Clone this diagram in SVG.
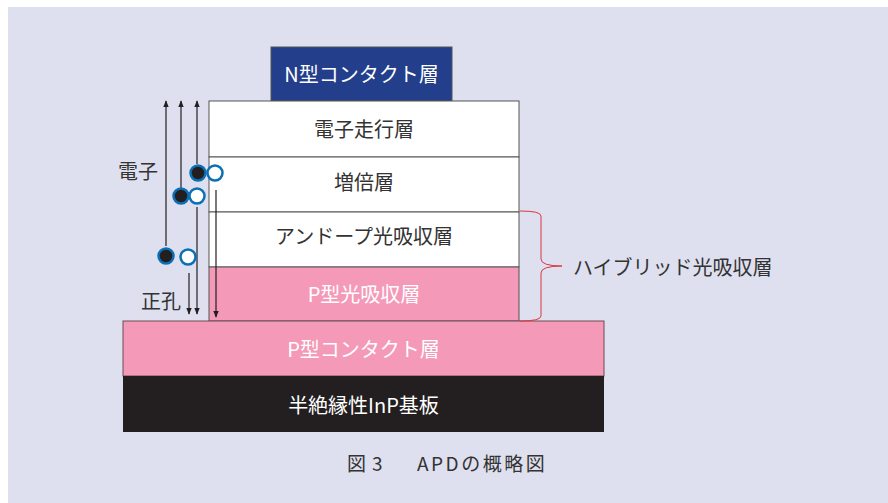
<svg xmlns="http://www.w3.org/2000/svg" width="888" height="503" viewBox="0 0 888 503">
<style>
text{font-family:"Noto Sans CJK JP","Noto Sans",sans-serif;font-size:20px;}
.w{fill:#ffffff;}
.d{fill:#333333;}
.cap{font-size:19px;}
.lay{stroke:#555555;stroke-width:1;}
.ln{stroke:#231f20;stroke-width:1.2;fill:none;}
.e{fill:#231f20;stroke:#0b6fb5;stroke-width:2.5;}
.h{fill:#ffffff;stroke:#0b6fb5;stroke-width:2.5;}
</style>
<defs>
<marker id="ah" viewBox="0 0 10 10" refX="9" refY="5" markerWidth="7" markerHeight="7" orient="auto-start-reverse" markerUnits="userSpaceOnUse">
<path d="M0,1 L10,5 L0,9 z" fill="#231f20"/>
</marker>
</defs>
<rect x="8" y="7" width="880" height="496" fill="#dfe0ef"/>
<g id="n-contact"><rect x="271" y="47" width="181" height="54" fill="#233e8b" class="lay"/><text x="361.5" y="82" text-anchor="middle" class="w">N型コンタクト層</text></g>
<g id="electron-transit"><rect x="209" y="101" width="310" height="56" fill="#ffffff" class="lay"/><text x="364" y="137" text-anchor="middle" class="d">電子走行層</text></g>
<g id="multiplication"><rect x="209" y="157" width="310" height="55" fill="#ffffff" class="lay"/><text x="364" y="190" text-anchor="middle" class="d">増倍層</text></g>
<g id="undoped-absorption"><rect x="209" y="212" width="310" height="55" fill="#ffffff" class="lay"/><text x="364" y="244" text-anchor="middle" class="d">アンドープ光吸収層</text></g>
<g id="p-absorption"><rect x="209" y="267" width="310" height="54" fill="#f49ab8" class="lay"/><text x="364" y="302" text-anchor="middle" class="w">P型光吸収層</text></g>
<g id="p-contact"><rect x="123" y="321" width="481" height="55" fill="#f49ab8" stroke="#6b4a55" stroke-width="1"/><text x="363.5" y="357" text-anchor="middle" class="w">P型コンタクト層</text></g>
<g id="substrate"><rect x="123" y="376" width="481" height="56" fill="#231f20"/><text x="363.5" y="413" text-anchor="middle" class="w">半絶縁性InP基板</text></g>
<g id="connectors">
<line x1="166" y1="246" x2="166" y2="101" class="ln" marker-end="url(#ah)"/>
<line x1="181" y1="188" x2="181" y2="101" class="ln" marker-end="url(#ah)"/>
<line x1="197" y1="164" x2="197" y2="101" class="ln" marker-end="url(#ah)"/>
<line x1="189" y1="273" x2="189" y2="314" class="ln" marker-end="url(#ah)"/>
<line x1="197" y1="207" x2="197" y2="314" class="ln" marker-end="url(#ah)"/>
<line x1="216" y1="190" x2="216" y2="317" class="ln" marker-end="url(#ah)"/>
<path d="M520,211 Q541,211 541,216 L541,259 Q541,266 562,266 Q541,266 541,273 L541,316 Q541,321 520,321" fill="none" stroke="#d9363e" stroke-width="1"/>
</g>
<g id="carriers">
<circle cx="198" cy="173" r="7.5" class="e"/>
<circle cx="215" cy="173" r="7.5" class="h"/>
<circle cx="181" cy="196" r="7.5" class="e"/>
<circle cx="197" cy="196" r="7.5" class="h"/>
<circle cx="166" cy="256" r="7.5" class="e"/>
<circle cx="188" cy="257" r="7.5" class="h"/>
</g>
<g id="labels">
<text x="118" y="179" class="d">電子</text>
<text x="141" y="309" class="d">正孔</text>
<text x="573" y="275" class="d">ハイブリッド光吸収層</text>
<text y="471" class="d cap"><tspan x="347">図</tspan><tspan x="372">3</tspan><tspan x="417" letter-spacing="2.5">APDの概略図</tspan></text>
</g>
</svg>
